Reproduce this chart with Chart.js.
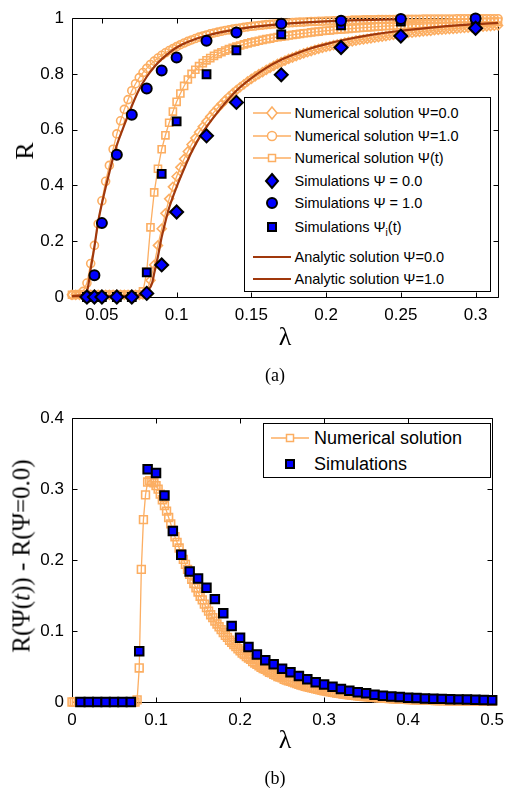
<!DOCTYPE html>
<html><head><meta charset="utf-8">
<script src="https://cdn.jsdelivr.net/npm/chart.js@4.4.0/dist/chart.umd.min.js"></script>
<style>
body{margin:0;background:#fff;width:512px;height:793px;position:relative;overflow:hidden;font-family:"Liberation Sans",Arial,sans-serif;}
canvas{position:absolute;left:0;}
#cA{top:0}
#cB{top:400px}
.lbl{position:absolute;font-family:"Liberation Serif","Times New Roman",serif;color:#000;white-space:nowrap;line-height:1;transform:translate(-50%,-50%);}
.rot{transform:translate(-50%,-50%) rotate(-90deg);}
.leg{position:absolute;background:#fff;border:1px solid #000;box-sizing:border-box;}
.row{position:absolute;left:0;height:20px;width:100%;}
.row svg{position:absolute;top:0;}
.row span{position:absolute;top:0;line-height:20px;white-space:nowrap;color:#000;}
sub{font-size:70%;vertical-align:-4px;line-height:0;}
</style></head>
<body>
<canvas id="cA" width="512" height="330"></canvas>
<canvas id="cB" width="512" height="340"></canvas>

<div class="lbl rot" style="left:25px;top:151px;font-size:26px;">R</div>
<div class="lbl" style="left:285px;top:337px;font-size:26px;">λ</div>
<div class="lbl" style="left:275px;top:375px;font-size:18px;">(a)</div>
<div class="lbl rot" style="left:21px;top:556px;font-size:25px;">R(Ψ(<i>t</i>)) - R(Ψ=0.0)</div>
<div class="lbl" style="left:285px;top:740px;font-size:26px;">λ</div>
<div class="lbl" style="left:275px;top:778px;font-size:18px;">(b)</div>

<div class="leg" id="legA" style="left:244px;top:97px;width:247px;height:195px;font-size:14.5px;"></div>
<div class="leg" id="legB" style="left:263px;top:423px;width:228px;height:55px;font-size:18px;"></div>

<script>
// ---------- DATA (a) ----------
const lamA = [
0.03,0.0325,0.035,0.0375, 0.04,0.0425,0.045,0.0475, 0.05,0.0525,0.055,0.0575, 0.06,0.0625,0.065,0.0675,
0.07,0.0725,0.075,0.0775, 0.08,0.0825,0.085,0.0875, 0.09,0.0925,0.095,0.0975, 0.1,0.1025,0.105,0.1075,
0.11,0.1125,0.115,0.1175, 0.12,0.1225,0.125,0.1275, 0.13,0.1325,0.135,0.1375, 0.14,0.1425,0.145,0.1475,
0.15,0.1525,0.155,0.1575, 0.16,0.1625,0.165,0.1675, 0.17,0.1725,0.175,0.1775, 0.18,0.1825,0.185,0.1875,
0.19,0.1925,0.195,0.1975, 0.2,0.2025,0.205,0.2075, 0.21,0.2125,0.215,0.2175, 0.22,0.2225,0.225,0.2275,
0.23,0.2325,0.235,0.2375, 0.24,0.2425,0.245,0.2475, 0.25,0.2525,0.255,0.2575, 0.26,0.2625,0.265,0.2675,
0.27,0.2725,0.275,0.2775, 0.28,0.2825,0.285,0.2875, 0.29,0.2925,0.295,0.2975, 0.3,0.3025,0.305,0.3075,
0.31,0.3125,0.315];
const numPsi0 = [
0.008,0.008,0.008,0.008, 0.008,0.008,0.008,0.008, 0.008,0.008,0.008,0.008, 0.008,0.008,0.008,0.008,
0.008,0.008,0.008,0.009, 0.02,0.06,0.115,0.185, 0.245,0.30,0.352,0.395, 0.432,0.465,0.495,0.522,
0.547,0.57,0.591,0.611, 0.63,0.647,0.663,0.678, 0.692,0.706,0.719,0.731, 0.742,0.753,0.763,0.773,
0.782,0.791,0.799,0.807, 0.815,0.822,0.829,0.836, 0.842,0.848,0.854,0.859, 0.864,0.869,0.874,0.878,
0.882,0.886,0.89,0.894, 0.897,0.9,0.903,0.906, 0.909,0.912,0.915,0.917, 0.92,0.922,0.924,0.926,
0.928,0.93,0.932,0.934, 0.936,0.938,0.94,0.942, 0.944,0.945,0.947,0.948, 0.95,0.951,0.953,0.954,
0.955,0.957,0.958,0.959, 0.96,0.961,0.962,0.963, 0.964,0.965,0.966,0.967, 0.968,0.969,0.97,0.971,
0.972,0.973,0.974];
const numPsi1 = [
0.007,0.008,0.01,0.02, 0.05,0.12,0.185,0.262, 0.345,0.415,0.472,0.53, 0.585,0.632,0.673,0.708,
0.74,0.765,0.787,0.805, 0.82,0.834,0.846,0.857, 0.867,0.876,0.884,0.891, 0.898,0.905,0.911,0.917,
0.922,0.927,0.932,0.936, 0.94,0.944,0.947,0.95, 0.953,0.956,0.958,0.961, 0.963,0.965,0.967,0.969,
0.971,0.972,0.974,0.975, 0.977,0.978,0.979,0.98, 0.981,0.982,0.983,0.984, 0.985,0.986,0.986,0.987,
0.988,0.988,0.989,0.989, 0.99,0.99,0.991,0.991, 0.992,0.992,0.992,0.993, 0.993,0.993,0.994,0.994,
0.994,0.994,0.995,0.995, 0.995,0.995,0.995,0.996, 0.996,0.996,0.996,0.996, 0.996,0.996,0.997,0.997,
0.997,0.997,0.997,0.997, 0.997,0.997,0.997,0.998, 0.998,0.998,0.998,0.998, 0.998,0.998,0.998,0.998,
0.998,0.998,0.998];
const numPsiT = [
0.008,0.008,0.008,0.008, 0.008,0.008,0.008,0.008, 0.008,0.008,0.008,0.008, 0.008,0.008,0.008,0.008,
0.008,0.008,0.009,0.02, 0.09,0.25,0.375,0.46, 0.53,0.58,0.625,0.665, 0.70,0.73,0.757,0.78,
0.80,0.815,0.828,0.839, 0.849,0.857,0.865,0.872, 0.878,0.884,0.889,0.894, 0.898,0.902,0.906,0.91,
0.913,0.916,0.919,0.922, 0.925,0.927,0.93,0.932, 0.934,0.936,0.938,0.94, 0.942,0.944,0.946,0.947,
0.949,0.951,0.952,0.954, 0.955,0.956,0.958,0.959, 0.96,0.961,0.962,0.963, 0.964,0.965,0.966,0.967,
0.968,0.969,0.97,0.971, 0.972,0.972,0.973,0.974, 0.975,0.976,0.976,0.977, 0.978,0.978,0.979,0.98,
0.98,0.981,0.981,0.982, 0.982,0.983,0.983,0.984, 0.984,0.985,0.985,0.985, 0.986,0.986,0.987,0.987,
0.987,0.988,0.988];
const anaLam0 = [0.03,0.05,0.07,0.076,0.079,0.081,0.0836,0.085,0.0875,0.09,0.0925,0.095,0.1,0.105,0.11,0.115,0.12,0.13,0.14,0.15,0.16,0.17,0.18,0.19,0.2,0.21,0.23,0.25,0.27,0.29,0.315];
const anaPsi0 = [0.003,0.003,0.004,0.007,0.013,0.025,0.05,0.085,0.145,0.215,0.27,0.32,0.395,0.46,0.52,0.57,0.61,0.68,0.74,0.785,0.822,0.851,0.873,0.892,0.907,0.92,0.94,0.955,0.966,0.975,0.983];
const anaLam1 = [0.03,0.036,0.039,0.0405,0.0425,0.045,0.0475,0.05,0.0525,0.055,0.0575,0.06,0.065,0.07,0.075,0.08,0.085,0.09,0.1,0.11,0.12,0.13,0.14,0.15,0.17,0.19,0.21,0.23,0.25];
const anaPsi1 = [0.003,0.006,0.012,0.03,0.1,0.18,0.27,0.335,0.393,0.447,0.50,0.545,0.617,0.685,0.745,0.79,0.825,0.853,0.895,0.92,0.937,0.95,0.96,0.968,0.979,0.986,0.991,0.994,0.996];
const simLamA = [0.04,0.045,0.05,0.06,0.07,0.08,0.09,0.1,0.12,0.14,0.17,0.21,0.25,0.3];
const simPsi0 = [0,0,0,0,0,0.013,0.115,0.305,0.578,0.698,0.797,0.895,0.936,0.964];
const simPsi1 = [0,0.078,0.265,0.51,0.654,0.748,0.812,0.859,0.919,0.949,0.98,0.991,0.997,0.999];
const simPsiT = [0,0,0,0,0,0.088,0.442,0.63,0.799,0.885,0.942,0.974,0.988,0.995];
const xTicksA = [0.05,0.1,0.15,0.2,0.25,0.3];
const xTickLabelsA = ['0.05','0.1','0.15','0.2','0.25','0.3'];
const yTicksA = [0,0.2,0.4,0.6,0.8,1];
const yTickLabelsA = ['0','0.2','0.4','0.6','0.8','1'];

// ---------- DATA (b) ----------
const lamB = [
0,0.0025,0.005,0.0075, 0.01,0.0125,0.015,0.0175, 0.02,0.0225,0.025,0.0275, 0.03,0.0325,0.035,0.0375,
0.04,0.0425,0.045,0.0475, 0.05,0.0525,0.055,0.0575, 0.06,0.0625,0.065,0.0675, 0.07,0.0725,0.075,0.0775,
0.08,0.0825,0.085,0.0875, 0.09,0.0925,0.095,0.0975, 0.1,0.1025,0.105,0.1075, 0.11,0.1125,0.115,0.1175,
0.12,0.1225,0.125,0.1275, 0.13,0.1325,0.135,0.1375, 0.14,0.1425,0.145,0.1475, 0.15,0.1525,0.155,0.1575,
0.16,0.1625,0.165,0.1675, 0.17,0.1725,0.175,0.1775, 0.18,0.1825,0.185,0.1875, 0.19,0.1925,0.195,0.1975,
0.2,0.2025,0.205,0.2075, 0.21,0.2125,0.215,0.2175, 0.22,0.2225,0.225,0.2275, 0.23,0.2325,0.235,0.2375,
0.24,0.2425,0.245,0.2475, 0.25,0.2525,0.255,0.2575, 0.26,0.2625,0.265,0.2675, 0.27,0.2725,0.275,0.2775,
0.28,0.2825,0.285,0.2875, 0.29,0.2925,0.295,0.2975, 0.3,0.3025,0.305,0.3075, 0.31,0.3125,0.315,0.3175,
0.32,0.3225,0.325,0.3275, 0.33,0.3325,0.335,0.3375, 0.34,0.3425,0.345,0.3475, 0.35,0.3525,0.355,0.3575,
0.36,0.3625,0.365,0.3675, 0.37,0.3725,0.375,0.3775, 0.38,0.3825,0.385,0.3875, 0.39,0.3925,0.395,0.3975,
0.4,0.4025,0.405,0.4075, 0.41,0.4125,0.415,0.4175, 0.42,0.4225,0.425,0.4275, 0.43,0.4325,0.435,0.4375,
0.44,0.4425,0.445,0.4475, 0.45,0.4525,0.455,0.4575, 0.46,0.4625,0.465,0.4675, 0.47,0.4725,0.475,0.4775,
0.48,0.4825,0.485,0.4875, 0.49,0.4925,0.495,0.4975, 0.5];
const numDiff = [
0,0,0,0, 0,0,0,0, 0,0,0,0, 0,0,0,0,
0,0,0,0, 0,0,0,0, 0,0,0,0, 0,0,0,0.003,
0.048,0.187,0.257,0.292, 0.31,0.312,0.311,0.309, 0.305,0.30,0.293,0.285, 0.277,0.269,0.26,0.251,
0.242,0.233,0.225,0.217, 0.209,0.201,0.194,0.187, 0.18,0.173,0.167,0.161, 0.155,0.149,0.144,0.138,
0.133,0.128,0.123,0.119, 0.114,0.11,0.106,0.102, 0.098,0.094,0.091,0.087, 0.084,0.081,0.078,0.075,
0.072,0.069,0.067,0.064, 0.062,0.06,0.057,0.055, 0.053,0.051,0.049,0.047, 0.046,0.044,0.042,0.041,
0.039,0.038,0.036,0.035, 0.034,0.032,0.031,0.03, 0.029,0.028,0.027,0.026, 0.025,0.024,0.023,0.022,
0.0215,0.0207,0.02,0.0192, 0.0185,0.0178,0.0172,0.0165, 0.0159,0.0153,0.0147,0.0142, 0.0137,0.0132,0.0127,0.0122,
0.0118,0.0113,0.0109,0.0105, 0.0101,0.0097,0.0094,0.009, 0.0087,0.0084,0.0081,0.0078, 0.0075,0.0072,0.007,0.0067,
0.0065,0.0062,0.006,0.0058, 0.0056,0.0054,0.0052,0.005, 0.0048,0.0046,0.0045,0.0043, 0.0041,0.004,0.0038,0.0037,
0.0036,0.0034,0.0033,0.0032, 0.0031,0.003,0.0029,0.0028, 0.0027,0.0026,0.0025,0.0024, 0.0023,0.0022,0.0022,0.0021,
0.002,0.0019,0.0019,0.0018, 0.0017,0.0017,0.0016,0.0016, 0.0015,0.0015,0.0014,0.0014, 0.0013,0.0013,0.0012,0.0012,
0.0011,0.0011,0.001,0.001, 0.001,0.0009,0.0009,0.0009, 0.0008];
const simLamB = [0.01,0.02,0.03,0.04,0.05,0.06,0.07,0.08,0.09,0.1,0.11,0.12,0.13,0.14,0.15,0.16,0.17,0.18,0.19,0.2,
0.21,0.22,0.23,0.24,0.25,0.26,0.27,0.28,0.29,0.3,0.31,0.32,0.33,0.34,0.35,0.36,0.37,0.38,0.39,0.4,
0.41,0.42,0.43,0.44,0.45,0.46,0.47,0.48,0.49,0.5];
const simDiff = [0,0,0,0,0,0,0,0.0714,0.328,0.3226,0.291,0.241,0.2075,0.184,0.174,0.161,0.145,0.125,0.107,0.0905,
0.0775,0.067,0.059,0.0533,0.047,0.042,0.0367,0.032,0.028,0.0245,0.0215,0.0184,0.016,0.0138,0.0124,0.0101,0.0087,0.0078,0.007,0.006,
0.0055,0.005,0.0047,0.0044,0.004,0.0037,0.0034,0.0031,0.0028,0.0025];
const xTicksB = [0,0.1,0.2,0.3,0.4,0.5];
const xTickLabelsB = ['0','0.1','0.2','0.3','0.4','0.5'];
const yTicksB = [0,0.1,0.2,0.3,0.4];
const yTickLabelsB = ['0','0.1','0.2','0.3','0.4'];

// ---------- STYLE ----------
const ORANGE = '#FCAE62';
const BROWN = '#A0380C';
const BLUE = '#0000FF';
const SANS = "'Liberation Sans', Arial, sans-serif";

const boxPlugin = {
  id: 'matlabBox',
  beforeDatasetsDraw(chart) {
    const {ctx, chartArea: a, scales: {x, y}} = chart;
    const L = Math.round(a.left) + 0.5, R = Math.round(a.right) + 0.5;
    const T = Math.round(a.top) + 0.5, B = Math.round(a.bottom) + 0.5;
    const tl = 5;
    ctx.save();
    ctx.strokeStyle = '#000';
    ctx.lineWidth = 1;
    ctx.beginPath();
    ctx.rect(L, T, R - L, B - T);
    x.ticks.forEach(t => {
      const px = Math.round(x.getPixelForValue(t.value)) + 0.5;
      ctx.moveTo(px, B); ctx.lineTo(px, B - tl);
      ctx.moveTo(px, T); ctx.lineTo(px, T + tl);
    });
    y.ticks.forEach(t => {
      const py = Math.round(y.getPixelForValue(t.value)) + 0.5;
      ctx.moveTo(L, py); ctx.lineTo(L + tl, py);
      ctx.moveTo(R, py); ctx.lineTo(R - tl, py);
    });
    ctx.stroke();
    ctx.restore();
  }
};

function pts(xs, ys) { return xs.map((v, i) => ({x: v, y: ys[i]})); }

function scales(xmin, xmax, xt, xl, ymin, ymax, yt, yl, xh) {
  const tickFont = {family: SANS, size: 17};
  return {
    x: {
      type: 'linear', min: xmin, max: xmax,
      afterBuildTicks: s => { s.ticks = xt.map(v => ({value: v})); },
      afterFit: s => { s.height = xh; },
      grid: {display: false, drawTicks: false}, border: {display: false},
      ticks: {callback: (v, i) => xl[i], font: tickFont, color: '#000', padding: 8, maxRotation: 0, autoSkip: false}
    },
    y: {
      type: 'linear', min: ymin, max: ymax,
      afterBuildTicks: s => { s.ticks = yt.map(v => ({value: v})); },
      afterFit: s => { s.width = 72; },
      grid: {display: false, drawTicks: false}, border: {display: false},
      ticks: {callback: (v, i) => yl[i], font: tickFont, color: '#000', padding: 8, autoSkip: false}
    }
  };
}

const common = {
  responsive: false, animation: false, events: [],
  plugins: {legend: {display: false}, tooltip: {enabled: false}},
};

function numDS(xs, ys, style, r) {
  return {data: pts(xs, ys), borderColor: ORANGE, borderWidth: 1.3, tension: 0,
    pointStyle: style, pointRadius: r, pointBorderColor: ORANGE, pointBorderWidth: 1.6,
    pointBackgroundColor: 'rgba(255,255,255,0)', clip: false, order: 3};
}
function anaDS(xs, ys) {
  return {data: pts(xs, ys), borderColor: BROWN, borderWidth: 2.2, pointRadius: 0,
    cubicInterpolationMode: 'monotone', clip: false, order: 2};
}
function simDS(xs, ys, style, r) {
  return {data: pts(xs, ys), showLine: false, pointStyle: style, pointRadius: r,
    pointBackgroundColor: BLUE, pointBorderColor: '#000', pointBorderWidth: 2, clip: false, order: 1};
}

new Chart(document.getElementById('cA'), {
  type: 'line',
  data: {datasets: [
    numDS(lamA, numPsi0, 'rectRot', 4.5),
    numDS(lamA, numPsi1, 'circle', 4),
    numDS(lamA, numPsiT, 'rect', 5),
    anaDS(anaLam0, anaPsi0),
    anaDS(anaLam1, anaPsi1),
    simDS(simLamA, simPsi0, 'rectRot', 6.5),
    simDS(simLamA, simPsi1, 'circle', 5),
    simDS(simLamA, simPsiT, 'rect', 5.5)
  ]},
  options: Object.assign({}, common, {
    layout: {padding: {left: 0, top: 10, right: 14, bottom: 0}},
    scales: scales(0.03, 0.315, xTicksA, xTickLabelsA, 0, 1, yTicksA, yTickLabelsA, 33)
  }),
  plugins: [boxPlugin]
});

new Chart(document.getElementById('cB'), {
  type: 'line',
  data: {datasets: [
    numDS(lamB, numDiff, 'rect', 5.5),
    simDS(simLamB, simDiff, 'rect', 6)
  ]},
  options: Object.assign({}, common, {
    layout: {padding: {left: 0, top: 15, right: 14, bottom: 0}},
    scales: scales(0, 0.5, xTicksB, xTickLabelsB, 0, 0.4, yTicksB, yTickLabelsB, 38)
  }),
  plugins: [boxPlugin]
});

// ---------- LEGENDS ----------
function sym(kind) {
  const o = ORANGE;
  switch (kind) {
    case 'nd': return `<line x1="0" y1="10" x2="38" y2="10" stroke="${o}" stroke-width="1.5"/><polygon points="19,4 24,10 19,16 14,10" fill="#fff" stroke="${o}" stroke-width="1.5"/>`;
    case 'nc': return `<line x1="0" y1="10" x2="38" y2="10" stroke="${o}" stroke-width="1.5"/><circle cx="19" cy="10" r="4.5" fill="#fff" stroke="${o}" stroke-width="1.5"/>`;
    case 'ns': return `<line x1="0" y1="10" x2="38" y2="10" stroke="${o}" stroke-width="1.5"/><rect x="15.5" y="6.5" width="7" height="7" fill="#fff" stroke="${o}" stroke-width="1.5"/>`;
    case 'sd': return `<polygon points="19,3 25,10 19,17 13,10" fill="${BLUE}" stroke="#000" stroke-width="2"/>`;
    case 'sc': return `<circle cx="19" cy="10" r="5" fill="${BLUE}" stroke="#000" stroke-width="2"/>`;
    case 'ss': return `<rect x="15" y="6" width="8" height="8" fill="${BLUE}" stroke="#000" stroke-width="2"/>`;
    case 'a': return `<line x1="0" y1="10" x2="38" y2="10" stroke="${BROWN}" stroke-width="2.2"/>`;
  }
}
function buildLegend(el, rows, svgLeft, textLeft) {
  el.innerHTML = rows.map(r =>
    `<div class="row" style="top:${r[0] - 10}px"><svg style="left:${svgLeft}px" width="38" height="20">${sym(r[1])}</svg><span style="left:${textLeft}px">${r[2]}</span></div>`
  ).join('');
}
buildLegend(document.getElementById('legA'), [
  [15, 'nd', 'Numerical solution Ψ=0.0'],
  [37.7, 'nc', 'Numerical solution Ψ=1.0'],
  [60.3, 'ns', 'Numerical solution Ψ(t)'],
  [83, 'sd', 'Simulations Ψ = 0.0'],
  [105.3, 'sc', 'Simulations Ψ = 1.0'],
  [128.7, 'ss', 'Simulations Ψ<sub>i</sub>(t)'],
  [158.7, 'a', 'Analytic solution Ψ=0.0'],
  [181, 'a', 'Analytic solution Ψ=1.0']
], 7.5, 49.5);
buildLegend(document.getElementById('legB'), [
  [14, 'ns', 'Numerical solution'],
  [39.5, 'ss', 'Simulations']
], 7, 50);
</script>
</body></html>
